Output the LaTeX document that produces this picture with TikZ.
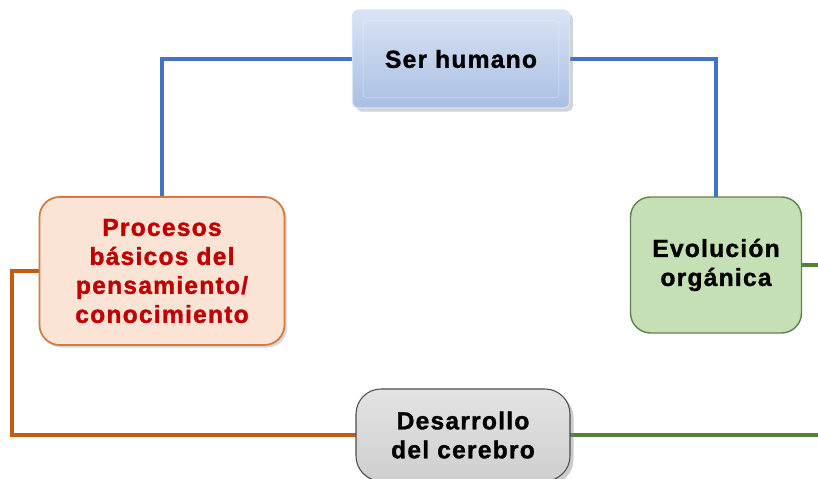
\documentclass[tikz,border=0pt]{standalone}
\usepackage{fontspec}
\setmainfont{Liberation Sans}
\newfontfamily\boxfont[LetterSpace=5, FakeBold=1.3]{Liberation Sans Bold}
\usetikzlibrary{shadows,backgrounds}

\definecolor{lineblue}{HTML}{4472C4}
\definecolor{lineorange}{HTML}{C55A11}
\definecolor{linegreen}{HTML}{548235}
\definecolor{peach}{HTML}{FBE3D6}
\definecolor{darkred}{HTML}{C00000}
\definecolor{leaf}{HTML}{C5E0B4}
\definecolor{skytop}{HTML}{D9E3F4}
\definecolor{skybottom}{HTML}{A9BFE3}

\begin{document}
\begin{tikzpicture}[x=0.02cm, y=-0.02cm,
  every node/.style={font=\boxfont\fontsize{14}{16.5}\selectfont, align=center, inner sep=0pt, outer sep=0pt},
  topbox/.style={rectangle, rounded corners=3pt, minimum width=4.34cm, minimum height=1.96cm,
    top color=skytop, bottom color=skybottom, draw=skytop, line width=0.6pt,
    drop shadow={opacity=0.35, shadow xshift=2pt, shadow yshift=-2pt}},
  leftbox/.style={rectangle, rounded corners=0.4cm, minimum width=4.9cm, minimum height=2.96cm,
    fill=peach, draw=lineorange!80!white, line width=1pt, text=darkred,
    drop shadow={opacity=0.3, shadow xshift=1.5pt, shadow yshift=-1.5pt}},
  rightbox/.style={rectangle, rounded corners=0.4cm, minimum width=3.42cm, minimum height=2.72cm,
    fill=leaf, draw=linegreen!70!gray, line width=0.8pt},
  bottombox/.style={rectangle, rounded corners=0.5cm, minimum width=4.28cm, minimum height=1.84cm,
    top color=gray!22, bottom color=gray!38, draw=gray!60!black, line width=0.6pt,
    drop shadow={opacity=0.4, shadow xshift=2pt, shadow yshift=-2pt}},
  link/.style={line width=2.2pt}]

\clip (0,0) rectangle (818,479);
\useasboundingbox (0,0) rectangle (818,479);

% boxes
\node[topbox] (ser) at (461,59) {Ser humano};
\node[leftbox] (proc) at (162,271) {Procesos\\básicos del\\pensamiento/\\conocimiento};
\node[rightbox] (evo) at (716,265) {Evolución\\orgánica};
\node[bottombox] (des) at (463,435) {Desarrollo\\del cerebro};

% bevel of the top box
\draw[white, opacity=0.25, line width=0.6pt, rounded corners=2pt]
  ([xshift=6pt,yshift=-6pt]ser.north west) rectangle ([xshift=-6pt,yshift=6pt]ser.south east);

% turning points off the boxes
\coordinate (lft) at (12,350);
\coordinate (rgt) at (840,350);

% connectors, behind the boxes
\begin{pgfonlayer}{background}
\draw[link, lineblue] (ser.west) -| (proc.north);
\draw[link, lineblue] (ser.east) -| (evo.north);
\draw[link, lineorange] (proc.west) -| (lft) |- (des.west);
\draw[link, linegreen] (evo.east) -| (rgt) |- (des.east);
\end{pgfonlayer}
\end{tikzpicture}
\end{document}
